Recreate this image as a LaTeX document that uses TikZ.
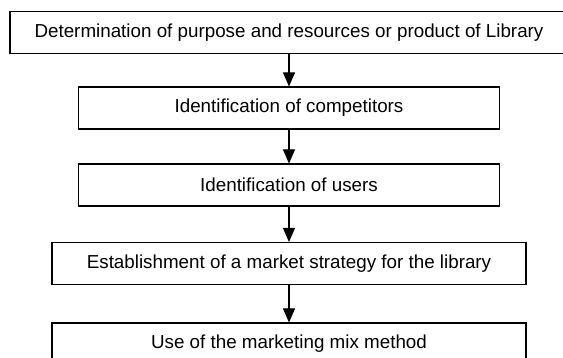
\documentclass[tikz,border=0pt]{standalone}
\usepackage{fontspec}
\setmainfont{Liberation Sans}
\usetikzlibrary{arrows.meta}

\begin{document}
\begin{tikzpicture}[x=1pt,y=-1pt,
    stage/.style={draw,line width=1.1pt,rectangle,inner sep=0pt,minimum height=42pt,
      font=\fontsize{18.8}{22}\selectfont},
    >={Triangle[length=14pt,width=12pt]}]
         \useasboundingbox (0,0) rectangle (563,358);

         \node[stage,minimum width=558pt](A) at (289,32.5) {Determination of purpose and resources or product of Library};
         \node[stage,minimum width=421pt](B) at (289,108) {Identification of competitors};
         \node[stage,minimum width=421pt](C) at (289,185) {Identification of users};
         \node[stage,minimum width=474pt](D) at (289,263.5) {Establishment of a market strategy for the library};
         \node[stage,minimum width=474pt](E) at (289,344) {Use of the marketing mix method};

         \draw[->,line width=1.1pt](A) -- (B);
         \draw[->,line width=1.1pt](B) -- (C);
         \draw[->,line width=1.1pt](C) -- (D);
         \draw[->,line width=1.1pt](D) -- (E);
\end{tikzpicture}
\end{document}
